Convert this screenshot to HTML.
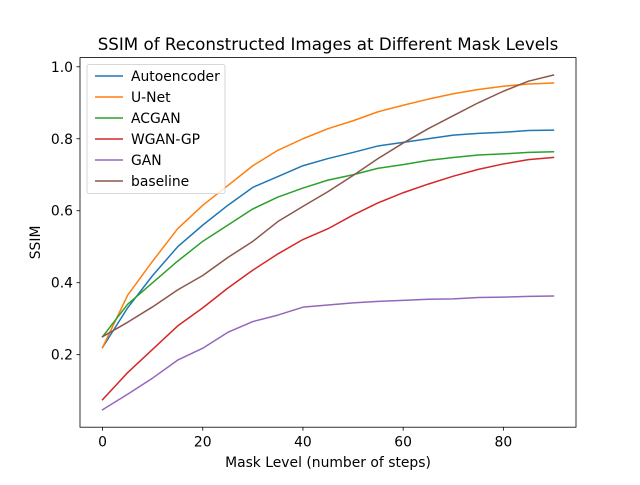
<!DOCTYPE html>
<html><head><meta charset="utf-8"><style>
body{margin:0;background:#fff}
text{font-family:"DejaVu Sans","Liberation Sans",sans-serif;fill:#000}
</style></head><body>
<svg id="chart" width="640" height="480" xmlns="http://www.w3.org/2000/svg"></svg>
<script>
const xs=[0,5,10,15,20,25,30,35,40,45,50,55,60,65,70,75,80,85,90];
const seriesNames=["Autoencoder","U-Net","ACGAN","WGAN-GP","GAN","baseline"];
const autoencoder=[0.22,0.33,0.42,0.50,0.56,0.615,0.665,0.695,0.725,0.745,0.762,0.78,0.79,0.80,0.81,0.815,0.818,0.823,0.824];
const unet=[0.22,0.365,0.46,0.55,0.615,0.67,0.725,0.768,0.80,0.828,0.85,0.875,0.893,0.91,0.925,0.937,0.946,0.952,0.955];
const acgan=[0.25,0.34,0.40,0.46,0.515,0.56,0.605,0.638,0.663,0.685,0.70,0.718,0.728,0.74,0.748,0.755,0.758,0.762,0.764];
const wgangp=[0.075,0.15,0.215,0.28,0.33,0.385,0.435,0.48,0.52,0.55,0.588,0.622,0.65,0.674,0.696,0.715,0.73,0.742,0.748];
const gan=[0.047,0.09,0.135,0.185,0.218,0.262,0.292,0.31,0.332,0.338,0.344,0.348,0.351,0.354,0.355,0.359,0.36,0.362,0.363];
const baseline=[0.25,0.29,0.333,0.38,0.42,0.47,0.515,0.57,0.612,0.653,0.698,0.745,0.788,0.828,0.864,0.9,0.932,0.96,0.977];
const xTicks=[0,20,40,60,80];
const yTicks=[0.2,0.4,0.6,0.8,1.0];
const colors=["#1f77b4","#ff7f0e","#2ca02c","#d62728","#9467bd","#8c564b"];
const allSeries=[autoencoder,unet,acgan,wgangp,gan,baseline];

const L=80,R=576,T=57.6,B=427.2;
const xmin=-4.5,xmax=94.5,ymin=-0.0015,ymax=1.0255;
const X=v=>L+(v-xmin)/(xmax-xmin)*(R-L);
const Y=v=>B-(v-ymin)/(ymax-ymin)*(B-T);
const svg=document.getElementById('chart');
const NS="http://www.w3.org/2000/svg";
function mk(tag,attrs,parent){const e=document.createElementNS(NS,tag);for(const k in attrs)e.setAttribute(k,attrs[k]);(parent||svg).appendChild(e);return e;}

allSeries.forEach((s,i)=>{
  const p=mk('polyline',{points:s.map((v,j)=>X(xs[j])+','+Y(v)).join(' '),fill:'none',stroke:colors[i],'stroke-width':1.5,'stroke-linejoin':'round','stroke-linecap':'square'});
  
  
});
const frame=mk('rect',{x:L,y:T,width:R-L,height:B-T,fill:'none',stroke:'#000','stroke-width':0.8});



xTicks.forEach(t=>{
  mk('line',{x1:X(t),x2:X(t),y1:B,y2:B+3.5,stroke:'#000','stroke-width':0.8});
  const tx=mk('text',{x:X(t),y:B+19.5,'font-size':13.9,'text-anchor':'middle'});
  tx.textContent=t;
  
  
});
yTicks.forEach(t=>{
  mk('line',{x1:L-3.5,x2:L,y1:Y(t),y2:Y(t),stroke:'#000','stroke-width':0.8});
  const tx=mk('text',{x:L-7,y:Y(t)+5,'font-size':13.9,'text-anchor':'end'});
  tx.textContent=t.toFixed(1);
  
  
});
const title=mk('text',{x:(L+R)/2,y:50,'font-size':16.7,'text-anchor':'middle'});
title.textContent='SSIM of Reconstructed Images at Different Mask Levels';


const xl=mk('text',{x:(L+R)/2,y:467,'font-size':13.9,'text-anchor':'middle'});
xl.textContent='Mask Level (number of steps)';


const yl=mk('text',{x:0,y:0,'font-size':13.9,'text-anchor':'middle',transform:'translate(40,'+((T+B)/2)+') rotate(-90)'});
yl.textContent='SSIM';



const lg=mk('g',{});


mk('rect',{x:87,y:64.6,width:138,height:129,rx:2,fill:'#fff','fill-opacity':0.8,stroke:'#ccc','stroke-width':0.8},lg);
seriesNames.forEach((n,i)=>{
  const y=76+i*21;
  const g=mk('g',{},lg);
  
  
  mk('line',{x1:95,x2:123,y1:y,y2:y,stroke:colors[i],'stroke-width':1.5},g);
  const t=mk('text',{x:131,y:y+5,'font-size':13.9},g);
  t.textContent=n;
});
</script>
</body></html>
